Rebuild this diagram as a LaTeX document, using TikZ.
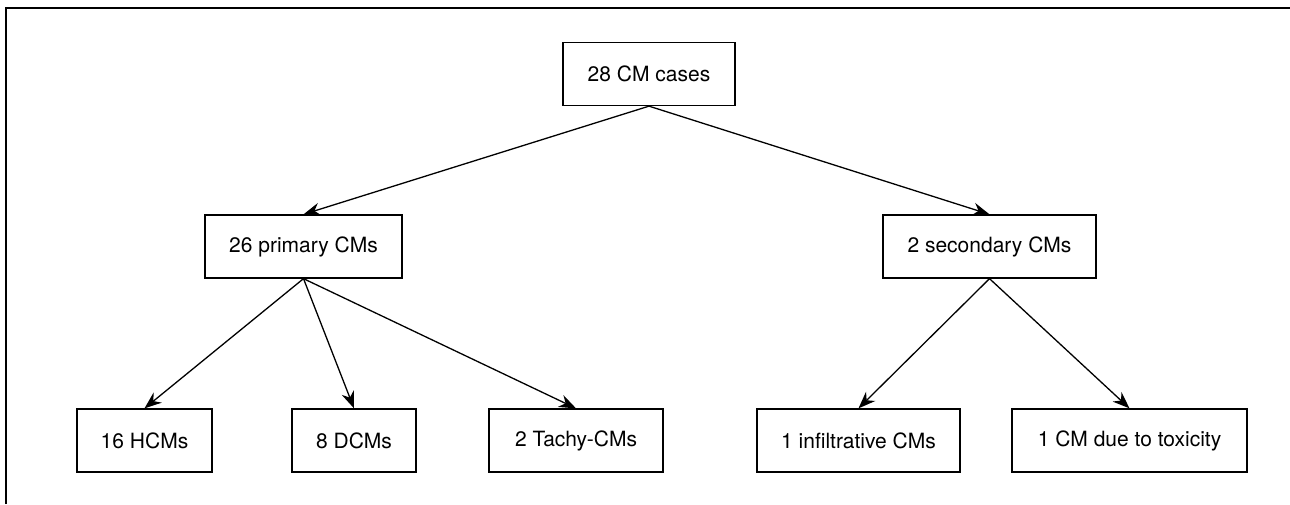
\documentclass[tikz,border=0pt]{standalone}
\usepackage{fontspec}
\setmainfont{TeX Gyre Heros}
\usetikzlibrary{arrows.meta}
\tikzset{cmbox/.style={draw,line width=.65pt,minimum height=31.5pt,inner sep=0pt}}
\begin{document}
\begin{tikzpicture}[>={Stealth[length=8.5pt,width=6.5pt]},font=\fontsize{10.5}{12}\selectfont,x=.5pt,y=-.5pt]
    \useasboundingbox (0,0) rectangle (1290,504);
    \draw[line width=1pt] (6,504) -- (6,7.5) -- (1290,7.5);
    % top level
    \node[cmbox,minimum width=86pt] (cases) at (649,74) {28 CM cases};
    \node[cmbox,minimum width=98.5pt] (prim) at (303.5,246.5) {26 primary CMs};
    \node[cmbox,minimum width=106.5pt] (sec) at (989.5,246.5) {2 secondary CMs};
    % bottom row
    \node[cmbox,minimum width=67.5pt] (hcm) at (144.5,440.5) {16 HCMs};
    \node[cmbox,minimum width=62pt] (dcm) at (354,440.5) {8 DCMs};
    \node[cmbox,minimum width=87pt] (tachy) at (576,440.5) {2 Tachy-CMs};
    \node[cmbox,minimum width=101.5pt] (infil) at (858.5,440.5) {1 infiltrative CMs};
    \node[cmbox,minimum width=117.5pt] (tox) at (1129.5,440.5) {1 CM due to toxicity};
    \draw[->,line width=.65pt] (cases.south) -- (prim.north);
    \draw[->,line width=.65pt] (cases.south) -- (sec.north);
    \draw[->,line width=.65pt] (prim.south) -- (hcm.north);
    \draw[->,line width=.65pt] (prim.south) -- (dcm.north);
    \draw[->,line width=.65pt] (prim.south) -- (tachy.north);
    \draw[->,line width=.65pt] (sec.south) -- (infil.north);
    \draw[->,line width=.65pt] (sec.south) -- (tox.north);
\end{tikzpicture}
\end{document}
